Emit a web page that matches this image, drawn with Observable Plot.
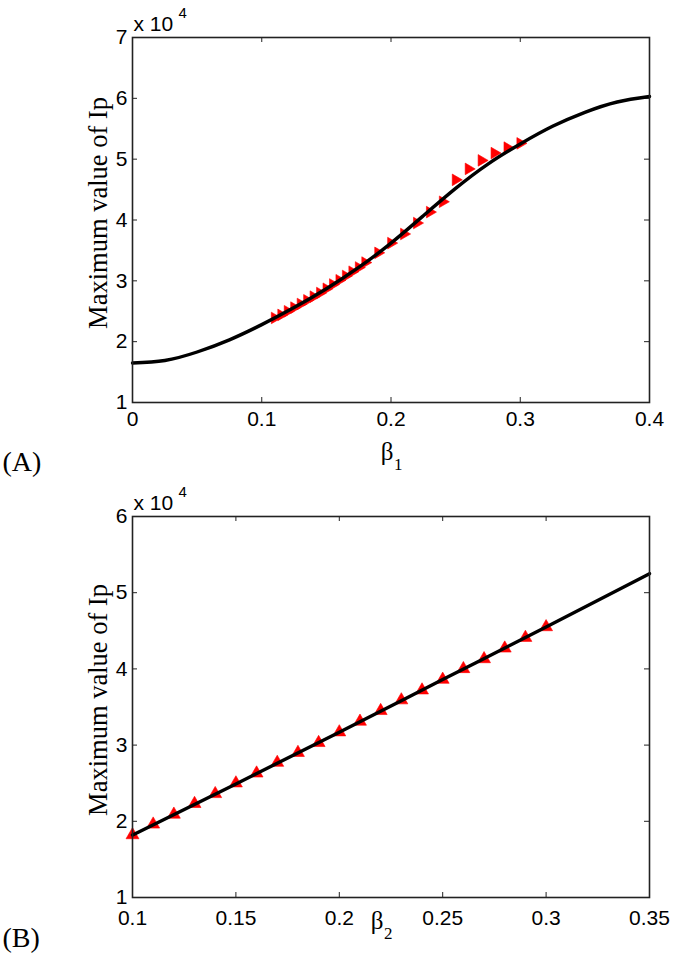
<!DOCTYPE html>
<html>
<head>
<meta charset="utf-8">
<script src="https://cdn.jsdelivr.net/npm/d3@7"></script>
<script src="https://cdn.jsdelivr.net/npm/@observablehq/plot@0.6"></script>
<style>
  html, body { margin: 0; padding: 0; background: #fff; }
  #chart { width: 675px; }
  #chart svg { display: block; }
</style>
</head>
<body>
<div id="chart"></div>
<script>
// ---------- Panel A data (y in units of 10^4) ----------
const aCurveX = [0, 0.025, 0.05, 0.075, 0.1, 0.125, 0.15, 0.175, 0.2, 0.225, 0.25, 0.275, 0.3, 0.325, 0.35, 0.375, 0.4];
const aCurveY = [1.65, 1.69, 1.83, 2.03, 2.28, 2.56, 2.87, 3.22, 3.62, 4.07, 4.52, 4.92, 5.25, 5.54, 5.77, 5.94, 6.03];
const aMarkX = [0.11, 0.115, 0.12, 0.125, 0.13, 0.135, 0.14, 0.145, 0.15, 0.155, 0.16, 0.165, 0.17, 0.175, 0.18,
                0.19, 0.20, 0.21, 0.22, 0.23, 0.24, 0.25, 0.26, 0.27, 0.28, 0.29, 0.30];
const aMarkY = [2.39, 2.44, 2.50, 2.56, 2.62, 2.68, 2.74, 2.80, 2.87, 2.94, 3.01, 3.08, 3.15, 3.22, 3.30,
                3.46, 3.62, 3.77, 3.95, 4.13, 4.30, 4.66, 4.84, 4.98, 5.10, 5.19, 5.26];
const aXTicks = [0, 0.1, 0.2, 0.3, 0.4];
const aXLabels = ["0", "0.1", "0.2", "0.3", "0.4"];
const aYTicks = [1, 2, 3, 4, 5, 6, 7];
const aYLabels = ["1", "2", "3", "4", "5", "6", "7"];

// ---------- Panel B data (y in units of 10^4) ----------
const bCurveX = [0.1, 0.15, 0.2, 0.25, 0.3, 0.35];
const bCurveY = [1.82, 2.49, 3.17, 3.86, 4.55, 5.25];
const bMarkX = [0.10, 0.11, 0.12, 0.13, 0.14, 0.15, 0.16, 0.17, 0.18, 0.19, 0.20,
                0.21, 0.22, 0.23, 0.24, 0.25, 0.26, 0.27, 0.28, 0.29, 0.30];
const bMarkY = [1.82, 1.96, 2.09, 2.23, 2.36, 2.50, 2.63, 2.77, 2.90, 3.03, 3.17,
                3.31, 3.45, 3.59, 3.72, 3.86, 4.00, 4.13, 4.27, 4.41, 4.55];
const bXTicks = [0.1, 0.15, 0.2, 0.25, 0.3, 0.35];
const bXLabels = ["0.1", "0.15", "0.2", "0.25", "0.3", "0.35"];
const bYTicks = [1, 2, 3, 4, 5, 6];
const bYLabels = ["1", "2", "3", "4", "5", "6"];

const yLabelText = "Maximum value of Ip";
const expText = "x 10";
const expSup = "4";

const SANS = "'Liberation Sans', Arial, Helvetica, sans-serif";
const SERIF = "'Liberation Serif', 'Times New Roman', Times, serif";

function panel(o) {
  const innerH = o.height - o.marginTop - o.marginBottom;
  const innerW = o.width - o.marginLeft - o.marginRight;
  const curve = o.curveX.map((x, i) => ({x, y: o.curveY[i]}));
  const marks = o.markX.map((x, i) => ({x, y: o.markY[i]}));
  const lab = (ticks, labels) => d => labels[ticks.indexOf(d)];
  return Plot.plot({
    width: o.width, height: o.height,
    marginTop: o.marginTop, marginBottom: o.marginBottom,
    marginLeft: o.marginLeft, marginRight: o.marginRight,
    x: {domain: o.xDomain},
    y: {domain: o.yDomain},
    style: {fontFamily: SANS, fontSize: "21px", color: "#000", background: "#fff", overflow: "visible"},
    marks: [
      // inward ticks on all four sides
      Plot.tickX(o.xTicks, {x: d => d, insetTop: innerH - 5, stroke: "#222", strokeWidth: 1}),
      Plot.tickX(o.xTicks, {x: d => d, insetBottom: innerH - 5, stroke: "#222", strokeWidth: 1}),
      Plot.tickY(o.yTicks, {y: d => d, insetRight: innerW - 5, stroke: "#222", strokeWidth: 1}),
      Plot.tickY(o.yTicks, {y: d => d, insetLeft: innerW - 5, stroke: "#222", strokeWidth: 1}),
      Plot.axisX({ticks: o.xTicks, tickFormat: lab(o.xTicks, o.xLabels), tickSize: 0, tickPadding: o.xPad, label: null, fontSize: 21}),
      Plot.axisY({ticks: o.yTicks, tickFormat: lab(o.yTicks, o.yLabels), tickSize: 0, tickPadding: 5, label: null, fontSize: 21}),
      Plot.dot(marks, {x: "x", y: "y", symbol: "triangle", rotate: o.rotate, r: o.r, fill: "#ff0000", stroke: "#ff0000", strokeWidth: 0.6}),
      Plot.line(curve, {x: "x", y: "y", curve: "natural", stroke: "#000", strokeWidth: 3.4}),
      Plot.frame({stroke: "#222", strokeWidth: 1.6}),
      // exponent label
      Plot.text([expText], {frameAnchor: "top-left", textAnchor: "start", lineAnchor: "bottom", dx: 1, dy: -7, fontSize: 21, fontFamily: SANS}),
      Plot.text([expSup], {frameAnchor: "top-left", textAnchor: "start", lineAnchor: "bottom", dx: 46, dy: -20, fontSize: 15, fontFamily: SANS}),
      // y label
      Plot.text([yLabelText], {frameAnchor: "left", textAnchor: "middle", lineAnchor: "middle", rotate: -90, dx: -34, dy: -7, fontSize: 26.5, fontFamily: SERIF}),
      // x label (beta with subscript)
      Plot.text([o.betaMain], {frameAnchor: "bottom", textAnchor: "middle", lineAnchor: "bottom", dx: o.betaDx, dy: o.betaDy, fontSize: 25, fontFamily: SERIF}),
      Plot.text([o.betaSub], {frameAnchor: "bottom", textAnchor: "start", lineAnchor: "bottom", dx: o.betaDx + 7, dy: o.betaDy + 10, fontSize: 17, fontFamily: SERIF}),
      // panel letter
      Plot.text([o.panelLabel], {frameAnchor: "bottom-left", textAnchor: "start", lineAnchor: "middle", dx: -130, dy: o.panelDy, fontSize: 28, fontFamily: SERIF})
    ]
  });
}

const chart = document.getElementById("chart");
chart.append(panel({
  width: 675, height: 478, marginTop: 37, marginBottom: 76, marginLeft: 132, marginRight: 26,
  xDomain: [0, 0.4], yDomain: [1, 7], xPad: 9, r: 4.3,
  curveX: aCurveX, curveY: aCurveY, markX: aMarkX, markY: aMarkY, rotate: 90,
  xTicks: aXTicks, xLabels: aXLabels, yTicks: aYTicks, yLabels: aYLabels,
  betaMain: "β", betaSub: "1", betaDx: -4, betaDy: 57,
  panelLabel: "(A)", panelDy: 60
}));
chart.append(panel({
  width: 675, height: 479, marginTop: 38, marginBottom: 60, marginLeft: 132, marginRight: 26,
  xDomain: [0.1, 0.35], yDomain: [1, 6], xPad: 13, r: 4.8,
  curveX: bCurveX, curveY: bCurveY, markX: bMarkX, markY: bMarkY, rotate: 0,
  xTicks: bXTicks, xLabels: bXLabels, yTicks: bYTicks, yLabels: bYLabels,
  betaMain: "β", betaSub: "2", betaDx: -14, betaDy: 31,
  panelLabel: "(B)", panelDy: 41
}));
</script>
</body>
</html>
